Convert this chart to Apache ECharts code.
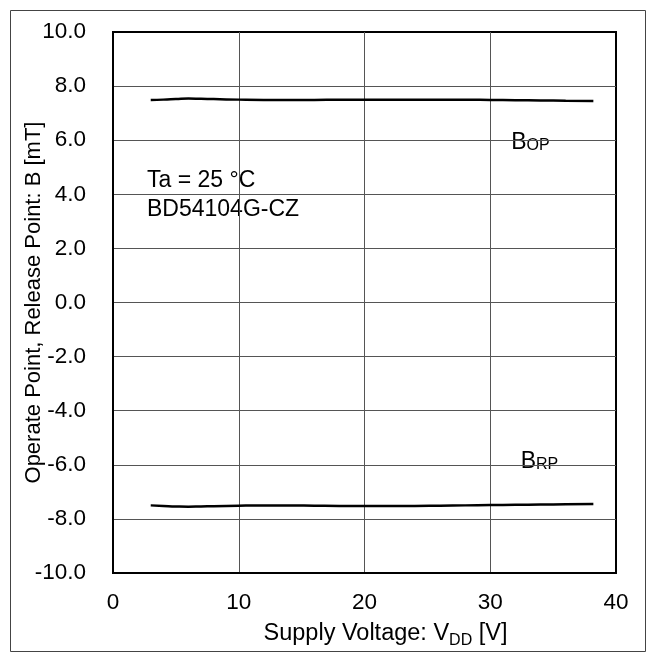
<!DOCTYPE html>
<html><head><meta charset="utf-8">
<script src="https://cdn.jsdelivr.net/npm/echarts@6/dist/echarts.min.js"></script>
<style>html,body{margin:0;padding:0;background:#fff}#c{width:656px;height:662px}</style>
</head><body><div id="c"></div>
<script>
const voltage = [3,4,5,6,7,8,10,12,14,16,18,20,22,24,26,28,30,32,34,36,38.2];
const bop = [7.49,7.5,7.52,7.54,7.53,7.52,7.5,7.49,7.49,7.49,7.5,7.5,7.5,7.5,7.5,7.5,7.49,7.48,7.47,7.46,7.45];
const brp = [-7.5,-7.52,-7.54,-7.55,-7.54,-7.53,-7.51,-7.5,-7.5,-7.51,-7.52,-7.52,-7.52,-7.52,-7.51,-7.5,-7.49,-7.48,-7.47,-7.46,-7.45];
const xRange = [0, 40, 10];
const yRange = [-10, 10, 2];
const xTitle = 'Supply Voltage: V';
const xTitleSub = 'DD';
const xTitleTail = ' [V]';
const yTitle = 'Operate Point, Release Point: B [mT]';
const noteLines = ['Ta = 25 °C', 'BD54104G-CZ'];
const bopLabel = ['B', 'OP'];
const brpLabel = ['B', 'RP'];

const FONT = "'Liberation Sans', Arial, sans-serif";
const chart = echarts.init(document.getElementById('c'), null, {renderer: 'canvas'});
const pairs = a => voltage.map((v, i) => [v, a[i]]);

function boxLabel(parts, x, y, w, h) {
  return {
    type: 'group', z: 100, children: [
      {type: 'rect', shape: {x: x, y: y, width: w, height: h}, style: {fill: '#fff'}},
      {type: 'text', style: {
        x: x + w / 2, y: y + h / 2 - 4, align: 'center', verticalAlign: 'middle',
        text: '{a|' + parts[0] + '}{b|' + parts[1] + '}',
        rich: {
          a: {fontSize: 23, fontFamily: FONT, fill: '#000', verticalAlign: 'bottom', lineHeight: 24},
          b: {fontSize: 16, fontFamily: FONT, fill: '#000', verticalAlign: 'bottom', lineHeight: 17}
        }
      }}
    ]
  };
}

chart.setOption({
  animation: false,
  backgroundColor: '#fff',
  grid: {left: 113, top: 32, width: 503, height: 541, show: true, borderColor: '#000', borderWidth: 2, backgroundColor: 'transparent'},
  xAxis: {
    type: 'value', min: xRange[0], max: xRange[1], interval: xRange[2],
    axisLine: {show: true, onZero: false, lineStyle: {color: '#000', width: 2}},
    axisTick: {show: false},
    splitLine: {show: true, showMinLine: false, showMaxLine: false, lineStyle: {color: '#555', width: 1}},
    axisLabel: {fontSize: 22.5, fontFamily: FONT, color: '#000', margin: 18},
    name: '{m|' + xTitle + '}{s|' + xTitleSub + '}{m|' + xTitleTail + '}',
    nameLocation: 'middle', nameGap: 46, nameMoveOverlap: false,
    nameTextStyle: {
      padding: [0, 0, 0, 42],
      rich: {
        m: {fontSize: 23.5, fontFamily: FONT, color: '#000', lineHeight: 30},
        s: {fontSize: 16, fontFamily: FONT, color: '#000', lineHeight: 16, verticalAlign: 'bottom'}
      }
    }
  },
  yAxis: {
    type: 'value', min: yRange[0], max: yRange[1], interval: yRange[2],
    axisLine: {show: true, onZero: false, lineStyle: {color: '#000', width: 2}},
    axisTick: {show: false},
    splitLine: {show: true, showMinLine: false, showMaxLine: false, lineStyle: {color: '#555', width: 1}},
    axisLabel: {fontSize: 22.5, fontFamily: FONT, color: '#000', margin: 27, formatter: v => v.toFixed(1)},
    name: yTitle, nameLocation: 'middle', nameGap: 68, nameRotate: 90, nameMoveOverlap: false,
    nameTextStyle: {fontSize: 22, fontFamily: FONT, color: '#000'}
  },
  series: [
    {type: 'line', data: pairs(bop), symbol: 'none', smooth: true, lineStyle: {color: '#000', width: 2.5}, z: 5},
    {type: 'line', data: pairs(brp), symbol: 'none', smooth: true, lineStyle: {color: '#000', width: 2.5}, z: 5}
  ],
  graphic: [
    {type: 'rect', z: 100, silent: true, shape: {x: 10.5, y: 10.5, width: 635, height: 641}, style: {fill: 'none', stroke: '#444', lineWidth: 1}},
    boxLabel(bopLabel, 467, 126, 127, 40),
    boxLabel(brpLabel, 476, 445, 127, 40),
    {type: 'group', z: 100, children: [
      {type: 'rect', shape: {x: 145, y: 166, width: 217, height: 72}, style: {fill: '#fff'}},
      {type: 'text', style: {x: 147, y: 181, text: noteLines[0], fontSize: 23, fontFamily: FONT, fill: '#000', verticalAlign: 'middle'}},
      {type: 'text', style: {x: 147, y: 210, text: noteLines[1], fontSize: 23, fontFamily: FONT, fill: '#000', verticalAlign: 'middle'}}
    ]}
  ]
});
</script></body></html>
